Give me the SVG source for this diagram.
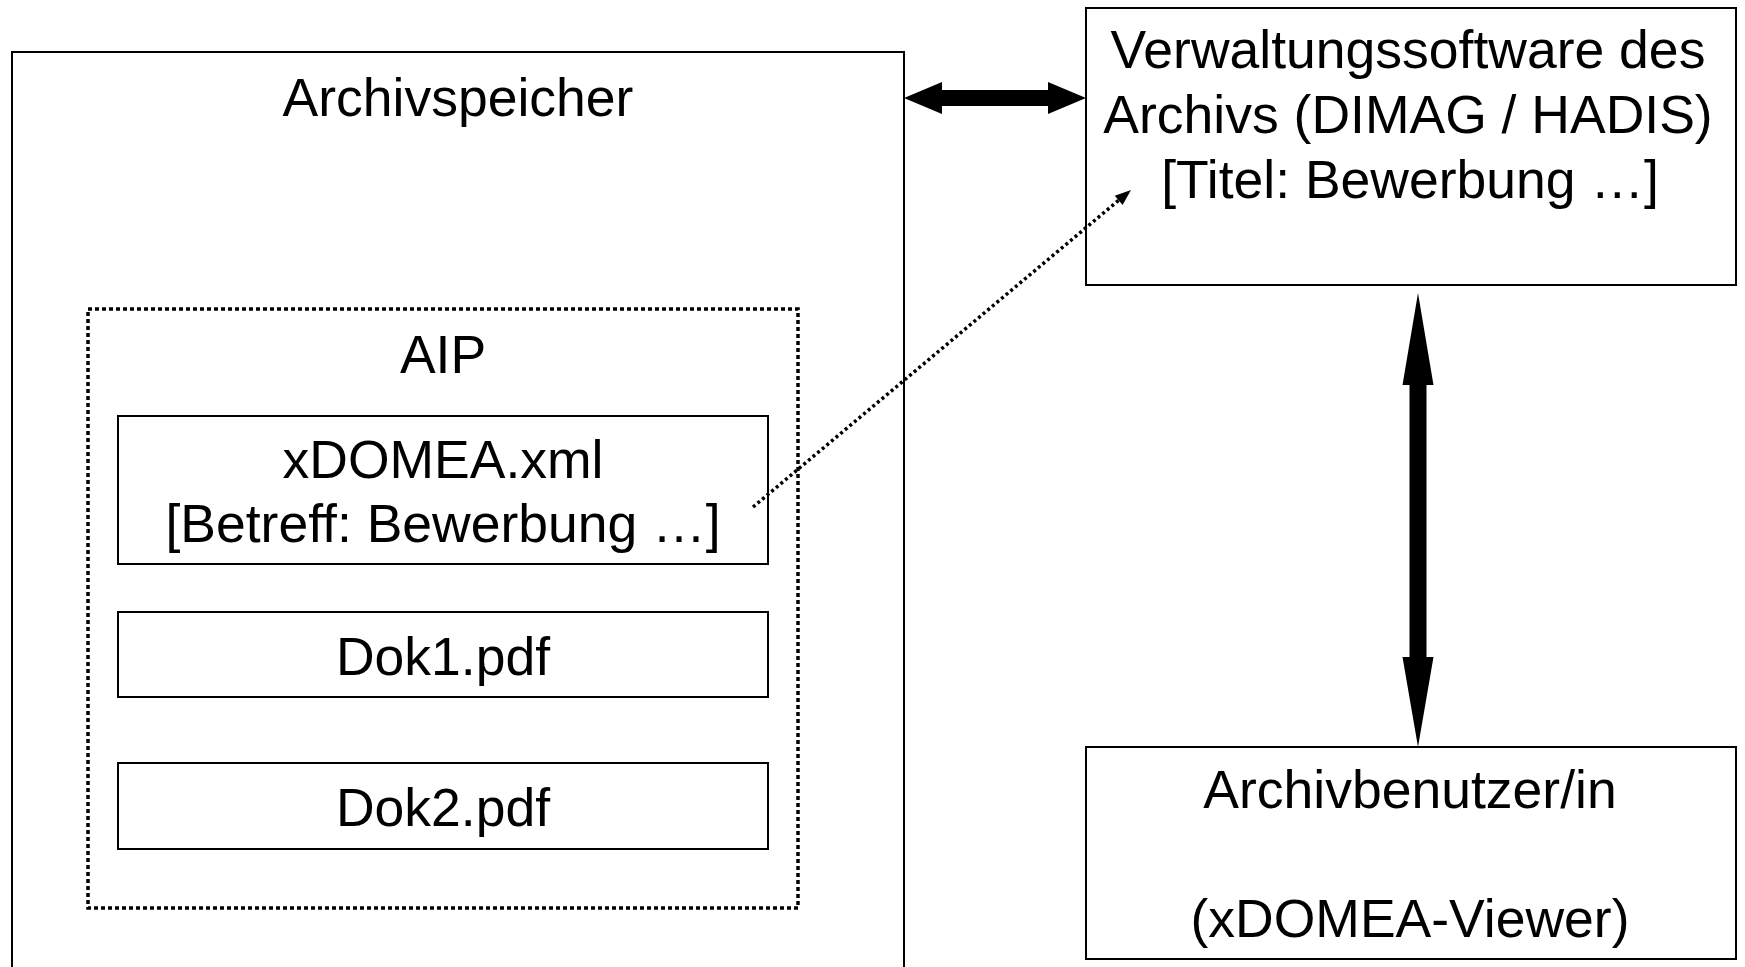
<svg xmlns="http://www.w3.org/2000/svg" width="1745" height="967" viewBox="0 0 1745 967">
<style>
.box{fill:#fff;stroke:#000;stroke-width:2}
.lbl{font-family:"Liberation Sans",Arial,sans-serif;font-size:53.5px;fill:#000;text-anchor:middle}
.dotbox{fill:none;stroke:#000;stroke-width:3.5;stroke-dasharray:4 3}
.dotline{fill:none;stroke:#000;stroke-width:3.5;stroke-dasharray:3 3}
</style>
<rect width="1745" height="967" fill="#fff"/>
<g id="archivspeicher">
<rect class="box" x="12" y="52" width="892" height="960"/>
<text class="lbl" x="458" y="116">Archivspeicher</text>
</g>
<g id="aip">
<rect class="dotbox" x="88" y="309" width="710" height="599"/>
<text class="lbl" x="443" y="373">AIP</text>
</g>
<g id="xdomea">
<rect class="box" x="118" y="416" width="650" height="148"/>
<text class="lbl" x="443" y="478">xDOMEA.xml</text>
<text class="lbl" x="443" y="542">[Betreff: Bewerbung …]</text>
</g>
<g id="dok1">
<rect class="box" x="118" y="612" width="650" height="85"/>
<text class="lbl" x="443" y="675">Dok1.pdf</text>
</g>
<g id="dok2">
<rect class="box" x="118" y="763" width="650" height="86"/>
<text class="lbl" x="443" y="826">Dok2.pdf</text>
</g>
<g id="verwaltung">
<rect class="box" x="1086" y="8" width="650" height="277"/>
<text class="lbl" x="1408" y="68">Verwaltungssoftware des</text>
<text class="lbl" x="1408" y="133">Archivs (DIMAG / HADIS)</text>
<text class="lbl" x="1410" y="198">[Titel: Bewerbung …]</text>
</g>
<g id="benutzer">
<rect class="box" x="1086" y="747" width="650" height="212"/>
<text class="lbl" x="1410" y="808">Archivbenutzer/in</text>
<text class="lbl" x="1410" y="937">(xDOMEA-Viewer)</text>
</g>
<g id="connectors">
<polygon points="904,98 942,82 942,90 1048,90 1048,82 1086,98 1048,114 1048,106 942,106 942,114" fill="#000"/>
<polygon points="1418,293 1433.5,385 1426.5,385 1426.5,657 1433.5,657 1418,747 1402.5,657 1409.5,657 1409.5,385 1402.5,385" fill="#000"/>
<line class="dotline" x1="753" y1="507" x2="1119" y2="200"/>
<polygon points="1131,190 1122.6,204.9 1114.8,195.7" fill="#000"/>
</g>
</svg>
